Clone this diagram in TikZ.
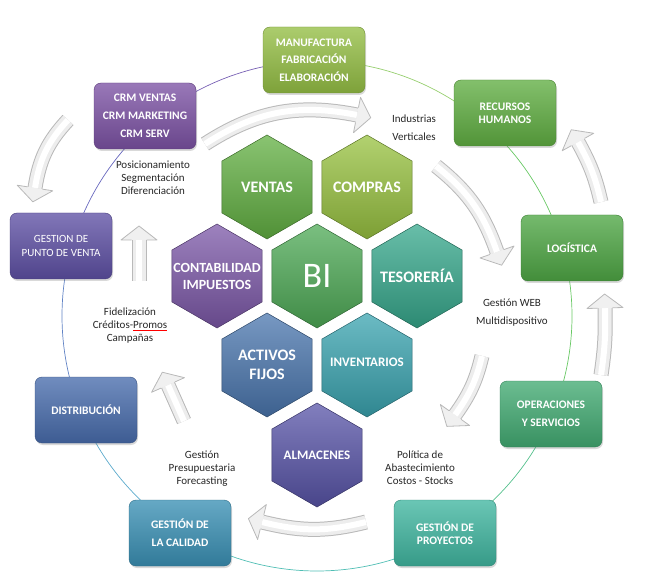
\documentclass[tikz,border=0pt]{standalone}
\usepackage{fontspec}
\setmainfont{Carlito}
\usetikzlibrary{shapes.geometric, shadows, decorations.markings}

\definecolor{manufgreen}{RGB}{148,190,68}
\definecolor{crmpurple}{RGB}{124,82,164}
\definecolor{rhgreen}{RGB}{96,174,66}
\definecolor{puntoviolet}{RGB}{94,80,164}
\definecolor{loggreen}{RGB}{78,166,68}
\definecolor{distblue}{RGB}{72,108,172}
\definecolor{opergreen}{RGB}{66,170,114}
\definecolor{calblue}{RGB}{58,144,180}
\definecolor{proyteal}{RGB}{64,182,160}
\definecolor{ventasgreen}{RGB}{98,176,66}
\definecolor{comprasgreen}{RGB}{152,194,64}
\definecolor{bigreen}{RGB}{78,170,86}
\definecolor{contpurple}{RGB}{124,88,168}
\definecolor{tesoteal}{RGB}{54,168,140}
\definecolor{activblue}{RGB}{74,118,174}
\definecolor{inventeal}{RGB}{58,164,176}
\definecolor{almaviolet}{RGB}{88,84,168}
\definecolor{ringviolet}{RGB}{120,96,180}
\definecolor{ringindigo}{RGB}{104,104,190}
\definecolor{ringblue}{RGB}{96,130,196}
\definecolor{ringsky}{RGB}{92,170,204}
\definecolor{ringteal}{RGB}{80,190,180}
\definecolor{ringmint}{RGB}{84,192,140}
\definecolor{ringgreen}{RGB}{104,200,100}
\definecolor{ringlime}{RGB}{150,206,110}

\tikzset{
  areabox/.style={rectangle, rounded corners=7pt, minimum width=102pt, minimum height=66pt,
    align=center, inner sep=2pt, text=white, font=\bfseries\fontsize{11.5}{13}\selectfont,
    top color=#1!78!white, bottom color=#1!85!black, draw=#1!75!black, line width=0.4pt,
    drop shadow={opacity=0.3, shadow xshift=1pt, shadow yshift=-2pt}},
  hexcell/.style={regular polygon, regular polygon sides=6, shape border rotate=90,
    minimum size=104pt, inner sep=0pt, top color=#1!75!white, bottom color=#1!82!black,
    draw=#1!60!black, line width=0.5pt},
  hextext/.style={text=white, align=center, font=\bfseries\fontsize{16}{19}\selectfont},
  notetext/.style={align=center, text=black!85, font=\fontsize{11}{13}\selectfont},
  flowarrow/.style={line width=15pt, draw=gray!55,
    postaction={draw=gray!14, line width=13pt},
    postaction={draw=white, line width=6pt},
    postaction={decorate, decoration={markings, mark=at position 1 with {
      \fill[gray!12] (0,-18pt) -- (14pt,0) -- (0,18pt) -- cycle;
      \draw[gray!55, line width=0.8pt, line join=round] (0,-7.5pt) -- (0,-18pt) -- (14pt,0) -- (0,18pt) -- (0,7.5pt);}}}}
}

\begin{document}
\begin{tikzpicture}[x=1pt, y=1pt]
\useasboundingbox (0,0) rectangle (645,-585);
\coordinate (hub) at (317,-316);
\foreach \sa/\sb/\rc in {91/131/ringviolet, 131/165/ringindigo, 165/202/ringblue, 202/238/ringsky, 238/300/ringteal, 300/337/ringmint, 337/375/ringgreen, 375/407/ringgreen, 407/451/ringlime}
  \draw[\rc, line width=0.7pt] (hub) ++(\sa:255) arc[start angle=\sa, end angle=\sb, radius=255];

\coordinate (t1) at (205,-144); \coordinate (h1) at (357,-115);
\coordinate (t2) at (436,-166); \coordinate (h2) at (497,-252);
\coordinate (t3) at (482,-356); \coordinate (h3) at (455,-415);
\coordinate (t4) at (366,-522); \coordinate (h4) at (262,-522);
\coordinate (t5) at (184,-421); \coordinate (h5) at (168,-385);
\coordinate (t6) at (139,-281); \coordinate (h6) at (139,-240);
\coordinate (t7) at (68,-120);  \coordinate (h7) at (35,-188);
\coordinate (t8) at (601,-375); \coordinate (h8) at (605,-308);
\coordinate (t9) at (601,-202); \coordinate (h9) at (578,-142);
\draw[flowarrow] (t1) to[bend left=22] (h1);
\draw[flowarrow] (t2) to[bend left=16] (h2);
\draw[flowarrow] (t3) to[bend left=11] (h3);
\draw[flowarrow] (t4) to[bend left=14] (h4);
\draw[flowarrow] (t5) -- (h5);
\draw[flowarrow] (t6) -- (h6);
\draw[flowarrow] (t7) to[bend right=17] (h7);
\draw[flowarrow] (t8) to[bend right=5] (h8);
\draw[flowarrow] (t9) to[bend right=8] (h9);

\node[hexcell=ventasgreen, label={[hextext]center:VENTAS}] (ventas) at (267,-187) {};
\node[hexcell=comprasgreen, label={[hextext]center:COMPRAS}] (compras) at (367,-187) {};
\node[hexcell=contpurple, label={[hextext, font=\bfseries\fontsize{14}{17}\selectfont]center:CONTABILIDAD\\IMPUESTOS}] (contab) at (217,-276) {};
\node[hexcell=bigreen, label={[hextext, font=\fontsize{36}{40}\selectfont]center:BI}] (bi) at (317,-276) {};
\node[hexcell=tesoteal, label={[hextext]center:TESORERÍA}] (teso) at (417,-276) {};
\node[hexcell=activblue, label={[hextext]center:ACTIVOS\\FIJOS}] (activos) at (267,-365) {};
\node[hexcell=inventeal, label={[hextext, font=\bfseries\fontsize{13}{16}\selectfont, yshift=3pt]center:INVENTARIOS}] (invent) at (367,-365) {};
\node[hexcell=almaviolet, label={[hextext, font=\bfseries\fontsize{13}{16}\selectfont]center:ALMACENES}] (almacen) at (317,-455) {};

\node[areabox=manufgreen] (manuf) at (314,-60) {MANUFACTURA\\[4.5pt]FABRICACIÓN\\[4.5pt]ELABORACIÓN};
\node[areabox=crmpurple] (crm) at (145,-116) {CRM VENTAS\\[5pt]CRM MARKETING\\[5pt]CRM SERV};
\node[areabox=rhgreen] (rrhh) at (505,-113) {RECURSOS\\HUMANOS};
\node[areabox=puntoviolet, font=\fontsize{11}{14}\selectfont] (punto) at (61,-246) {GESTION DE\\PUNTO DE VENTA};
\node[areabox=loggreen] (logis) at (572,-248) {LOGÍSTICA};
\node[areabox=distblue] (distrib) at (86,-410) {DISTRIBUCIÓN};
\node[areabox=opergreen] (oper) at (551,-414) {OPERACIONES\\[5pt]Y SERVICIOS};
\node[areabox=calblue] (calidad) at (180,-533) {GESTIÓN DE\\[5pt]LA CALIDAD};
\node[areabox=proyteal] (proyec) at (445,-533) {GESTIÓN DE\\PROYECTOS};

\node[notetext] (indus) at (414,-128) {Industrias\\[5pt]Verticales};
\node[notetext] (posic) at (153,-178) {Posicionamiento\\Segmentación\\Diferenciación};
\node[notetext] (fidel) at (130,-326) {Fidelización\\Créditos-\textcolor{red}{\underline{\textcolor{black!85}{Promos}}}\\Campañas};
\node[notetext] (web) at (512,-313) {Gestión WEB\\[5pt]Multidispositivo};
\node[notetext] (polit) at (420,-468) {Política de\\Abastecimiento\\Costos - Stocks};
\node[notetext] (presu) at (202,-469) {Gestión\\Presupuestaria\\Forecasting};
\end{tikzpicture}
\end{document}
